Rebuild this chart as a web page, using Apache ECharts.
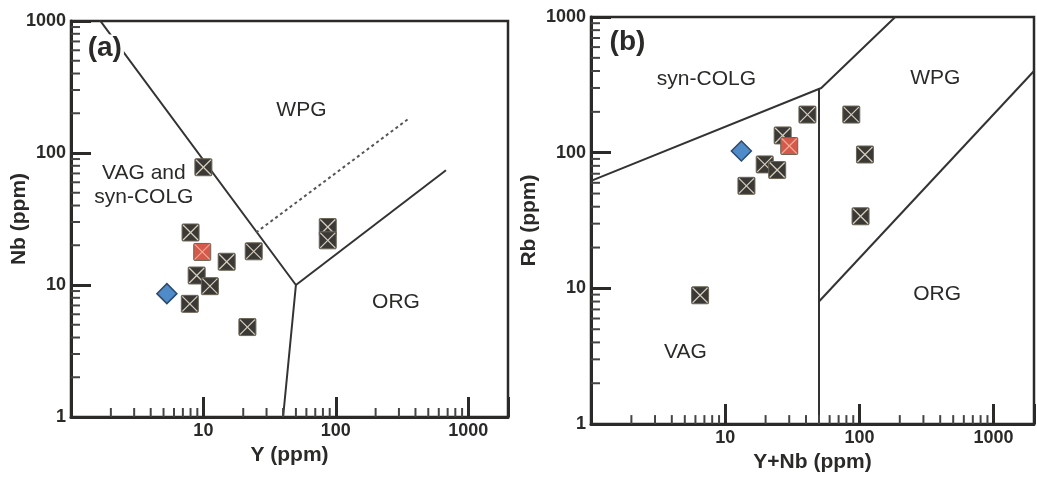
<!DOCTYPE html>
<html>
<head>
<meta charset="utf-8">
<script src="https://cdn.jsdelivr.net/npm/echarts@6/dist/echarts.min.js"></script>
<style>
    html, body { margin: 0; padding: 0; background: #fff; }
    #chart { width: 1037px; height: 478px; }
</style>
</head>
<body>
<div id="chart"></div>
<script>
// ---- panel (a): Nb vs Y ----
var samplesA = [[10, 78], [8.0, 25], [15, 15], [24, 18], [8.9, 11.8], [11.2, 9.8], [7.9, 7.2], [21.5, 4.8], [87, 27.5], [87, 21.8]];
var redA = [[9.8, 17.8]];
var blueA = [[5.3, 8.6]];
// field boundaries (Pearce et al. 1984)
var lineA1 = [[1, 2000], [50, 10], [40, 1]];
var lineA2 = [[50, 10], [680, 74]];
var dashA = [[25, 25], [350, 180]];
var labelsA = ['WPG', 'VAG and\nsyn-COLG', 'ORG', '(a)'];
var labelPosA = [[55, 210], [3.55, 57], [285, 7.4], [1.8, 620]];

// ---- panel (b): Rb vs Y+Nb ----
var samplesB = [[41, 191], [87, 191], [110, 97], [102, 34], [6.5, 8.9], [14.4, 57], [19.7, 82], [24.4, 74.5], [26.8, 134]];
var redB = [[30, 112]];
var blueB = [[13.2, 103]];
var lineB1 = [[1, 62], [52, 300], [185, 1000]];
var lineB2 = [[50, 1], [50, 300]];
var lineB3 = [[50, 8], [2000, 400]];
var labelsB = ['syn-COLG', 'WPG', 'ORG', 'VAG', '(b)'];
var labelPosB = [[7.25, 347], [368, 356], [379, 9.1], [5.05, 3.4], [1.87, 647]];

// minor log ticks
var minorTicks = [2, 3, 4, 5, 6, 7, 8, 9, 20, 30, 40, 50, 60, 70, 80, 90, 200, 300, 400, 500, 600, 700, 800, 900];

var FONT = "'Liberation Sans', Arial, sans-serif";
var INK = '#2b2a28';

var chart = echarts.init(document.getElementById('chart'));

function decadeLabel(hideOne) {
    return function (v) {
        var l = Math.log10(v);
        if (Math.abs(l - Math.round(l)) > 1e-6) return '';
        if (hideOne && Math.round(v) === 1) return '';
        return String(Math.round(v));
    };
}

function xAxisOf(idx, max, name, gap) {
    return {
        type: 'log', logBase: 10, gridIndex: idx, min: 1, max: max,
        name: name, nameLocation: 'middle', nameGap: gap,
        nameTextStyle: { fontFamily: FONT, fontSize: 21, fontWeight: 'bold', color: INK },
        axisLine: { show: true, lineStyle: { color: INK, width: 3 } },
        axisTick: { show: true, inside: true, length: 20, lineStyle: { color: INK, width: 3 } },
        axisLabel: { margin: 5, fontFamily: FONT, fontSize: 18, fontWeight: 'bold', color: INK, formatter: decadeLabel(true) },
        splitLine: { show: false }
    };
}

function yAxisOf(idx, name, gap) {
    return {
        type: 'log', logBase: 10, gridIndex: idx, min: 1, max: 1000,
        name: name, nameLocation: 'middle', nameGap: gap, nameMoveOverlap: false,
        nameTextStyle: { fontFamily: FONT, fontSize: 21, fontWeight: 'bold', color: INK },
        axisLine: { show: true, lineStyle: { color: INK, width: 3 } },
        axisTick: { show: true, inside: true, length: 20, lineStyle: { color: INK, width: 3 } },
        axisLabel: { margin: 5, fontFamily: FONT, fontSize: 18, fontWeight: 'bold', color: INK, formatter: decadeLabel(false) },
        splitLine: { show: false }
    };
}

function boundary(data, idx, dashed) {
    return {
        type: 'line', xAxisIndex: idx, yAxisIndex: idx, data: data,
        showSymbol: false, silent: true, z: 3,
        lineStyle: dashed ? { color: '#555', width: 2, type: [3, 3] } : { color: '#333', width: 2 }
    };
}

// square sample symbol with a light cross
function squares(data, idx, fill, cross) {
    return {
        type: 'custom', xAxisIndex: idx, yAxisIndex: idx, data: data, z: 6,
        renderItem: function (params, api) {
            var p = api.coord([api.value(0), api.value(1)]);
            var h = 8.5;
            return {
                type: 'group',
                children: [
                    { type: 'rect', shape: { x: p[0] - h, y: p[1] - h, width: 2 * h, height: 2 * h, r: 1 },
                      style: { fill: fill, stroke: '#6b6556', lineWidth: 1 } },
                    { type: 'line', shape: { x1: p[0] - h + 1, y1: p[1] - h + 1, x2: p[0] + h - 1, y2: p[1] + h - 1 },
                      style: { stroke: cross, lineWidth: 1.2 } },
                    { type: 'line', shape: { x1: p[0] + h - 1, y1: p[1] - h + 1, x2: p[0] - h + 1, y2: p[1] + h - 1 },
                      style: { stroke: cross, lineWidth: 1.2 } }
                ]
            };
        }
    };
}

function diamond(data, idx) {
    return {
        type: 'scatter', xAxisIndex: idx, yAxisIndex: idx, data: data, z: 6,
        symbol: 'diamond', symbolSize: [20, 20],
        itemStyle: { color: '#4f8bc9', borderColor: '#2d4a6c', borderWidth: 1.5, opacity: 1 }
    };
}

function minorX(idx) {
    return {
        type: 'custom', xAxisIndex: idx, yAxisIndex: idx, z: 4, silent: true,
        data: minorTicks.map(function (v) { return [v, 1]; }),
        renderItem: function (params, api) {
            var p = api.coord([api.value(0), api.value(1)]);
            return { type: 'line', shape: { x1: p[0], y1: p[1], x2: p[0], y2: p[1] - 9 }, style: { stroke: '#444', lineWidth: 2 } };
        }
    };
}

function minorY(idx) {
    return {
        type: 'custom', xAxisIndex: idx, yAxisIndex: idx, z: 4, silent: true,
        data: minorTicks.map(function (v) { return [1, v]; }),
        renderItem: function (params, api) {
            var p = api.coord([api.value(0), api.value(1)]);
            return { type: 'line', shape: { x1: p[0], y1: p[1], x2: p[0] + 9, y2: p[1] }, style: { stroke: '#444', lineWidth: 2 } };
        }
    };
}

function fieldLabels(names, pos, idx) {
    return {
        type: 'custom', xAxisIndex: idx, yAxisIndex: idx, data: pos, z: 5, silent: true,
        renderItem: function (params, api) {
            var p = api.coord([api.value(0), api.value(1)]);
            var txt = names[params.dataIndex];
            var isTag = txt.charAt(0) === '(';
            return {
                type: 'text', x: p[0], y: p[1],
                style: {
                    text: txt, textAlign: 'center', textVerticalAlign: 'middle',
                    fontFamily: FONT, fontSize: isTag ? 28 : 21, fontWeight: isTag ? 'bold' : 'normal',
                    lineHeight: 24, fill: INK,
                    backgroundColor: isTag ? '#fff' : null, padding: isTag ? [2, 2] : 0
                }
            };
        }
    };
}

chart.setOption({
    backgroundColor: '#fff',
    animation: false,
    grid: [
        { left: 71, top: 21, width: 437, height: 396, show: true, borderColor: INK, borderWidth: 2.5 },
        { left: 591, top: 17, width: 449, height: 409, show: true, borderColor: INK, borderWidth: 2.5 }
    ],
    xAxis: [xAxisOf(0, 2000, 'Y (ppm)', 23), xAxisOf(1, 2000, 'Y+Nb (ppm)', 26)],
    yAxis: [yAxisOf(0, 'Nb (ppm)', 41), yAxisOf(1, 'Rb (ppm)', 51)],
    series: [
        minorX(0), minorY(0), minorX(1), minorY(1),
        boundary(lineA1, 0), boundary(lineA2, 0), boundary(dashA, 0, true),
        boundary(lineB1, 1), boundary(lineB2, 1), boundary(lineB3, 1),
        fieldLabels(labelsA, labelPosA, 0), fieldLabels(labelsB, labelPosB, 1),
        squares(samplesA, 0, '#3b3935', '#d6cfbf'), squares(redA, 0, '#d45a4b', '#f3ab95'), diamond(blueA, 0),
        squares(samplesB, 1, '#3b3935', '#d6cfbf'), squares(redB, 1, '#d45a4b', '#f3ab95'), diamond(blueB, 1)
    ]
});
</script>
</body>
</html>
